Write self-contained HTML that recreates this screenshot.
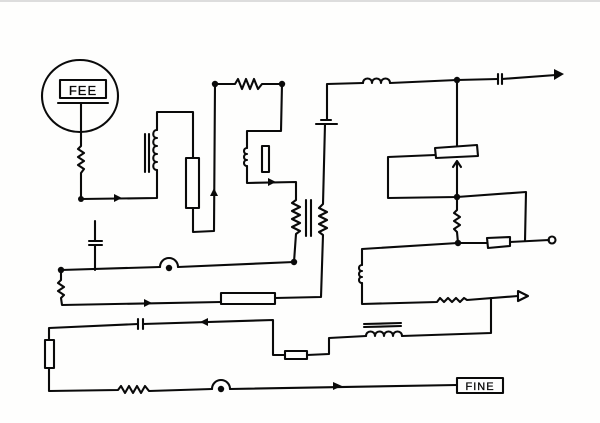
<!DOCTYPE html>
<html><head><meta charset="utf-8"><style>
html,body{margin:0;padding:0;background:#fff;}
svg{display:block;}
text{font-family:"Liberation Sans",sans-serif;}
</style></head><body>
<svg width="600" height="423" viewBox="0 0 600 423" xmlns="http://www.w3.org/2000/svg">
<rect width="600" height="423" fill="#fefefd"/>
<line x1="0" y1="1" x2="600" y2="1" stroke="#ddd" stroke-width="2"/>
<g fill="none" stroke="#0a0a0a" stroke-width="2.1" stroke-linejoin="round" stroke-linecap="round">
<ellipse cx="80" cy="96" rx="38" ry="36"/>
<rect x="60" y="80" width="46" height="18"/>
<line x1="58" y1="103" x2="108" y2="103"/>
<polyline points="81,103 81,146 78,149 84,153 78,157 84,161 78,165 84,169 81,173 81,199 157,198 157,170"/>
<path d="M157,170 c-5,0 -5,-8 0,-8 c-5,0 -5,-8 0,-8 c-5,0 -5,-8 0,-8 c-5,0 -5,-8 0,-8 c-5,0 -5,-8 0,-8"/>
<polyline points="157,130 157,112 193,112 193,158"/>
<line x1="145" y1="134" x2="145" y2="172"/><line x1="149" y1="134" x2="149" y2="172"/>
<rect x="186" y="158" width="13" height="50"/>
<polyline points="193,208 193,232 214,231 215,84 235,84 238,79 242,89 246,79 250,89 254,79 258,89 262,84 282,84 281,131 247,131 247,148"/>
<path d="M247,148 c-4,0 -4,6 0,6 c-4,0 -4,6 0,6 c-4,0 -4,6 0,6"/>
<polyline points="247,166 247,183 296,182 296,200 292,203 300,207 292,211 300,215 292,219 300,223 292,227 300,231 296,234 294,262"/>
<rect x="262" y="146" width="7" height="26"/>
<line x1="306" y1="200" x2="306" y2="236"/><line x1="311" y1="200" x2="311" y2="236"/>
<polyline points="61,270 160,267"/>
<path d="M160,267 a8,8 0 0 1 18,0"/>
<polyline points="178,267 294,262"/>
<polyline points="95,270 95,245"/><line x1="89" y1="245" x2="102" y2="245"/><line x1="89" y1="241" x2="102" y2="241"/><polyline points="95,241 95,221"/>
<polyline points="61,270 61,280 58,283 64,287 58,291 64,295 61,298 62,305 221,302"/>
<rect x="221" y="293" width="54" height="11"/>
<polyline points="275,298 321,297 323,235 319,232 327,228 319,224 327,220 319,216 327,212 319,208 323,204 325,124"/>
<line x1="316" y1="124" x2="337" y2="124"/><line x1="321" y1="120" x2="331" y2="120"/>
<polyline points="327,120 327,84 363,83"/>
<path d="M363,83 c0,-6 9,-6 9,0 c0,-6 9,-6 9,0 c0,-6 9,-6 9,0"/>
<polyline points="390,83 457,80 498,79"/>
<line x1="498" y1="74" x2="498" y2="84"/><line x1="502" y1="74" x2="502" y2="84"/>
<polyline points="502,79 556,75"/>
<polyline points="457,80 457,146"/>
<polygon points="435,148 477,145 478,156 436,158"/>
<polyline points="435,155 388,157 388,198 457,197 526,192 525,241"/>
<polyline points="457,197 457,162"/><polyline points="453,167 457,161 461,167"/>
<polyline points="457,197 457,210 454,213 460,217 454,221 460,225 454,229 457,232 458,243 487,243"/>
<polygon points="487,238 510,237 510,246 488,248"/>
<polyline points="510,242 549,240"/>
<circle cx="552" cy="240" r="3.5"/>
<polyline points="458,243 362,249 362,265"/>
<path d="M362,265 c-4,0 -4,6 0,6 c-4,0 -4,6 0,6 c-4,0 -4,6 0,6"/>
<polyline points="362,283 362,304 437,302 440,298 444,302 448,298 452,302 456,298 460,302 464,298 467,300 518,296"/>
<polygon points="518,291 528,296 518,301" fill="#fff"/>
<polyline points="491,298 491,333 402,336"/>
<path d="M402,336 c0,-6 -9,-6 -9,0 c0,-6 -9,-6 -9,0 c0,-6 -9,-6 -9,0 c0,-6 -9,-6 -9,0"/>
<line x1="364" y1="324" x2="401" y2="323"/><line x1="364" y1="327" x2="401" y2="326"/>
<polyline points="366,336 329,338 329,354 307,355"/>
<rect x="285" y="351" width="22" height="8"/>
<polyline points="285,355 273,355 273,320 143,324"/>
<line x1="143" y1="319" x2="143" y2="329"/><line x1="138" y1="319" x2="138" y2="329"/>
<polyline points="138,324 49,328 49,340"/>
<rect x="45" y="340" width="9" height="28"/>
<polyline points="49,368 49,391 118,390 121,386 125,393 129,386 133,393 137,386 141,393 145,386 149,391 212,389"/>
<path d="M212,389 a9,9 0 0 1 18,0"/>
<polyline points="230,389 457,385"/>
<rect x="457" y="378" width="46" height="15"/>
</g>
<g fill="#0a0a0a">
<circle cx="81" cy="199" r="3"/><circle cx="215" cy="84" r="3.2"/><circle cx="282" cy="84" r="3.2"/>
<circle cx="294" cy="262" r="3.2"/><circle cx="61" cy="270" r="3.2"/><circle cx="169" cy="268" r="3.2"/>
<circle cx="221" cy="389" r="3.2"/><circle cx="457" cy="80" r="3.2"/><circle cx="457" cy="197" r="3.2"/><circle cx="458" cy="243" r="3.2"/>
<polygon points="114,194 122,198 114,202"/>
<polygon points="210,196 214,188 218,196"/>
<polygon points="268,178 276,182 268,186"/>
<polygon points="144,299 152,303 144,307"/>
<polygon points="554,69 564,74 554,80"/>
<polygon points="208,318 200,322 208,326"/>
<polygon points="333,382 342,386 333,390"/>
</g>
<text x="83" y="95" font-size="13" text-anchor="middle" fill="#0a0a0a" letter-spacing="1" stroke="#0a0a0a" stroke-width="0.3">FEE</text>
<text x="480" y="390" font-size="11" text-anchor="middle" fill="#0a0a0a" letter-spacing="1" stroke="#0a0a0a" stroke-width="0.3">FINE</text>
</svg>
</body></html>
